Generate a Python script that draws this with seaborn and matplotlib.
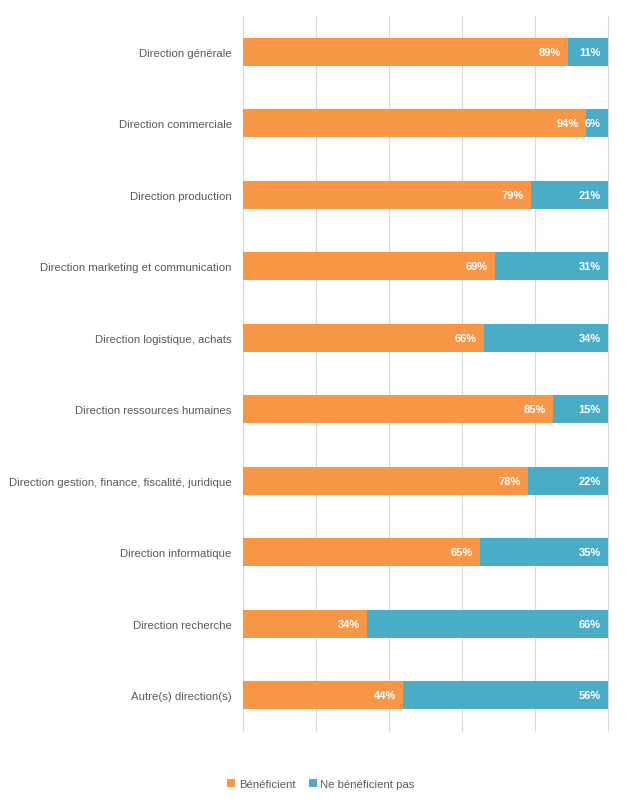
import pandas as pd
import matplotlib.pyplot as plt
import seaborn as sns

# Data
directions = [
    "Direction générale",
    "Direction commerciale",
    "Direction production",
    "Direction marketing et communication",
    "Direction logistique, achats",
    "Direction ressources humaines",
    "Direction gestion, finance, fiscalité, juridique",
    "Direction informatique",
    "Direction recherche",
    "Autre(s) direction(s)",
]
beneficient = [89, 94, 79, 69, 66, 85, 78, 65, 34, 44]
ne_beneficient_pas = [11, 6, 21, 31, 34, 15, 22, 35, 66, 56]

ORANGE = "#F79646"
TEAL = "#4BACC6"
GREY_TXT = "#595959"

df = pd.DataFrame(
    {"direction": directions, "ben": beneficient, "nben": ne_beneficient_pas}
)
df["total"] = df["ben"] + df["nben"]

sns.set_style("white")
plt.rcParams["font.family"] = ["Liberation Sans", "DejaVu Sans"]

fig = plt.figure(figsize=(6.26, 8.03), dpi=100)
ax = fig.add_axes([0.388, 0.0884, 0.583, 0.8904])

# Stacked: full bar in teal, orange on top
sns.barplot(data=df, y="direction", x="total", color=TEAL, width=0.39,
            orient="h", ax=ax, saturation=1, linewidth=0,
            label="Ne bénéficient pas")
sns.barplot(data=df, y="direction", x="ben", color=ORANGE, width=0.39,
            orient="h", ax=ax, saturation=1, linewidth=0,
            label="Bénéficient")
handles, labels = ax.get_legend_handles_labels()
if ax.get_legend() is not None:
    ax.get_legend().remove()

# Value labels (inside end)
for i, row in df.iterrows():
    ax.text(row["ben"] - 2.0, i, f"{row['ben']}%", ha="right", va="center",
            color="white", fontsize=8, fontweight="bold")
    ax.text(row["total"] - 2.0, i, f"{row['nben']}%", ha="right", va="center",
            color="white", fontsize=8, fontweight="bold")

# Axes
ax.set_xlim(0, 100)
ax.set_ylim(9.5, -0.5)
ax.set_xlabel("")
ax.set_ylabel("")
ax.set_xticks([0, 20, 40, 60, 80, 100])
ax.set_xticklabels([])
ax.tick_params(axis="x", length=0)
ax.tick_params(axis="y", length=0, pad=8, labelsize=8.2, labelcolor=GREY_TXT)
ax.xaxis.grid(True, color="#D9D9D9", lw=0.8)
for gl in ax.get_xgridlines():
    gl.set_clip_on(False)
ax.set_axisbelow(True)
for s in ax.spines.values():
    s.set_visible(False)

# Legend
order = [labels.index("Bénéficient"), labels.index("Ne bénéficient pas")]
fig.legend(
    [handles[k] for k in order],
    [labels[k] for k in order],
    loc="center",
    bbox_to_anchor=(0.513, 0.022),
    ncol=2,
    frameon=False,
    fontsize=8.2,
    labelcolor=GREY_TXT,
    handlelength=0.7,
    handleheight=0.7,
    handletextpad=0.3,
    columnspacing=1.2,
)

fig.savefig("out.png", dpi=100)
plt.close(fig)
